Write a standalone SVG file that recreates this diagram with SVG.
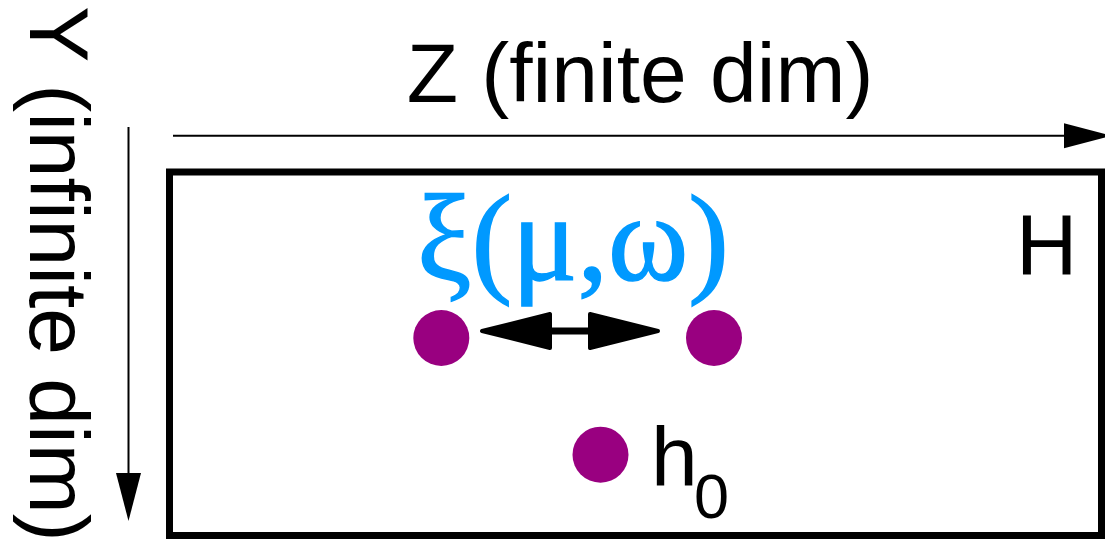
<svg xmlns="http://www.w3.org/2000/svg" width="1105" height="544" viewBox="0 0 1105 544">
<style>
.lbl{font-family:"Liberation Sans",Arial,sans-serif;fill:#000}
.dot{fill:#990080}
.axis{stroke:#000;stroke-width:2;fill:none}
</style>
<defs>
<marker id="axhead" markerUnits="userSpaceOnUse" markerWidth="60" markerHeight="30" refX="0" refY="0" viewBox="-2 -15 60 30" orient="auto" overflow="visible">
<path d="M0,-12.5 L48,0 L0,12.5 Z" fill="#000"/>
</marker>
<marker id="dblhead" markerUnits="userSpaceOnUse" markerWidth="80" markerHeight="50" refX="0" refY="0" viewBox="-25 -25 80 50" orient="auto-start-reverse" overflow="visible">
<path d="M-20,-17 L48,0 L-20,17 Z" fill="#000" stroke="#000" stroke-width="4" stroke-linejoin="round"/>
</marker>
</defs>
<rect width="1105" height="544" fill="#fff"/>
<g id="connectors">
<line class="axis" x1="173" y1="135.7" x2="1064" y2="135.7" marker-end="url(#axhead)"/>
<line class="axis" x1="128.5" y1="127" x2="128.5" y2="473" marker-end="url(#axhead)"/>
<line x1="530" y1="331" x2="610" y2="331" stroke="#000" stroke-width="7" marker-start="url(#dblhead)" marker-end="url(#dblhead)"/>
</g>
<g id="space-H">
<rect x="169.5" y="172" width="932" height="363.5" fill="none" stroke="#000" stroke-width="7"/>
<text class="lbl" x="1016" y="274" font-size="85">H</text>
</g>
<g id="axis-Z">
<text class="lbl" x="640" y="102" font-size="84" text-anchor="middle">Z (finite dim)</text>
</g>
<g id="axis-Y">
<text class="lbl" transform="translate(30,274) rotate(90)" font-size="84" text-anchor="middle">Y (infinite dim)</text>
</g>
<g id="xi-label">
<text x="573" y="280" font-size="122" text-anchor="middle" fill="#0099ff" stroke="#0099ff" stroke-width="1.5" font-family="'Liberation Serif','Times New Roman',serif">ξ(μ,ω)</text>
</g>
<g id="node-left"><circle class="dot" cx="441.3" cy="338" r="28"/></g>
<g id="node-right"><circle class="dot" cx="714" cy="338" r="28"/></g>
<g id="node-h0">
<circle class="dot" cx="600.5" cy="454.7" r="28"/>
<text class="lbl" x="651" y="486" font-size="84">h</text>
<text class="lbl" x="694" y="518" font-size="63">0</text>
</g>
</svg>
